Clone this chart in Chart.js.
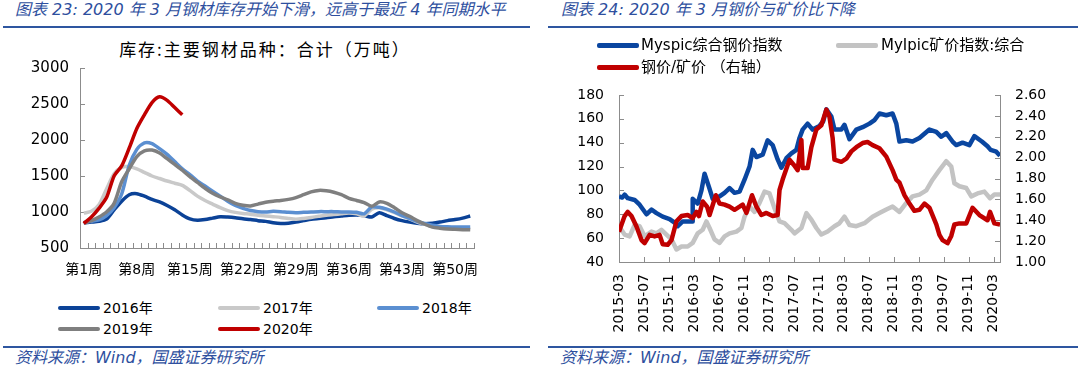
<!DOCTYPE html>
<html><head><meta charset="utf-8">
<script src="https://cdn.jsdelivr.net/npm/chart.js@4.4.0/dist/chart.umd.min.js"></script>
<style>
html,body{margin:0;padding:0;background:#fff;}
body{width:1080px;height:366px;position:relative;overflow:hidden;font-family:"DejaVu Sans","Noto Sans CJK SC",sans-serif;}
.hdr{position:absolute;top:0px;line-height:20px;font-family:"DejaVu Sans","Noto Sans CJK SC";font-style:italic;color:#2e4f9e;font-size:16px;white-space:nowrap;}
.rule{position:absolute;height:2px;background:#2e56a0;}
.src{position:absolute;top:348px;line-height:20px;font-family:"DejaVu Sans","Noto Sans CJK SC";font-style:italic;color:#2e4f9e;font-size:16px;white-space:nowrap;}
.li{position:absolute;height:4px;border-radius:2px;width:42px;}
.lt{position:absolute;line-height:20px;color:#000;white-space:nowrap;}
canvas{position:absolute;}
</style></head>
<body>
<div class="hdr" style="left:15px">图表 23:&nbsp;2020 年 3 月钢材库存开始下滑，远高于最近 4 年同期水平</div>
<div class="rule" style="left:3px;width:527px;top:26px"></div>
<div class="hdr" style="left:561px">图表 24:&nbsp;2020 年 3 月钢价与矿价比下降</div>
<div class="rule" style="left:548px;width:530px;top:26px"></div>

<div class="lt" style="left:0;width:530px;top:39px;text-align:center;font-size:17px;letter-spacing:2px;font-family:'Noto Sans CJK SC'">库存:主要钢材品种：合计（万吨）</div>

<canvas id="c1" width="540" height="262" style="left:0;top:30px"></canvas>
<canvas id="c2" width="540" height="316" style="left:540px;top:30px"></canvas>

<!-- left legend -->
<div class="li" style="left:58px;top:306px;background:#0b4297"></div><div class="lt" style="left:103px;top:298px;font-size:14px">2016年</div>
<div class="li" style="left:218px;top:306px;background:#c9c9c9"></div><div class="lt" style="left:263px;top:298px;font-size:14px">2017年</div>
<div class="li" style="left:377px;top:306px;background:#5b8fd1"></div><div class="lt" style="left:422px;top:298px;font-size:14px">2018年</div>
<div class="li" style="left:58px;top:327px;background:#7f7f7f"></div><div class="lt" style="left:103px;top:319px;font-size:14px">2019年</div>
<div class="li" style="left:218px;top:327px;background:#c00000"></div><div class="lt" style="left:263px;top:319px;font-size:14px">2020年</div>

<!-- right legend -->
<div class="li" style="left:597px;top:43px;background:#0a46a0;height:5px"></div><div class="lt" style="left:641px;top:35px;font-size:15px">Myspic综合钢价指数</div>
<div class="li" style="left:836px;top:43px;background:#c3c3c3;height:5px"></div><div class="lt" style="left:881px;top:35px;font-size:15px">MyIpic矿价指数:综合</div>
<div class="li" style="left:597px;top:65px;background:#c00000;height:5px"></div><div class="lt" style="left:641px;top:57px;font-size:15px">钢价/矿价 （右轴）</div>

<div class="rule" style="left:3px;width:527px;top:346px"></div>
<div class="src" style="left:15px">资料来源：Wind，国盛证券研究所</div>
<div class="rule" style="left:548px;width:530px;top:346px"></div>
<div class="src" style="left:560px">资料来源：Wind，国盛证券研究所</div>

<script>
// ---------- Left chart data (weekly inventory, 万吨) ----------
const weekLabels = Array.from({length:52},(_,i)=>'第'+(i+1)+'周');
const inv2016 = [850,860,870,900,1030,1150,1240,1255,1220,1175,1140,1090,1030,960,905,885,895,915,935,930,920,905,895,880,870,850,840,845,860,880,900,910,920,935,945,955,960,950,930,990,950,910,880,860,845,838,845,860,880,895,915,945];
const inv2017 = [985,1010,1100,1320,1530,1620,1630,1600,1550,1500,1465,1430,1400,1370,1300,1220,1160,1110,1060,1020,995,980,970,955,945,935,925,910,900,910,925,940,955,965,975,985,975,945,1040,1060,1030,990,945,905,860,830,805,790,780,775,770,765];
const inv2018 = [855,870,890,950,1060,1250,1650,1870,1960,1950,1880,1800,1700,1600,1520,1430,1360,1290,1220,1150,1090,1050,1020,1005,1000,1010,1005,995,990,995,1000,1005,1005,1005,1000,1000,995,975,1070,1065,1040,1000,950,910,870,840,815,800,795,792,792,792];
const inv2019 = [845,880,930,1000,1120,1420,1600,1770,1850,1860,1820,1740,1660,1580,1490,1410,1330,1260,1210,1170,1120,1095,1085,1110,1135,1150,1160,1175,1200,1240,1280,1300,1295,1275,1240,1190,1160,1130,1080,1140,1120,1060,990,940,880,830,790,775,765,760,755,752];
const inv2020 = [840,930,1050,1200,1500,1640,1890,2160,2350,2520,2600,2550,2450,2350];
const invTicks = [500,1000,1500,2000,2500,3000];

// ---------- Right chart data (months since 2015-03) ----------
const xTickLabels = ['2015-03','2015-07','2015-11','2016-03','2016-07','2016-11','2017-03','2017-07','2017-11','2018-03','2018-07','2018-11','2019-03','2019-07','2019-11','2020-03'];
const steelX = [0,0.5,0.9,1.4,2.5,3.3,4.4,5.2,6.0,7.0,8.1,8.9,9.4,10.2,11.3,11.7,11.8,12.6,13.2,13.7,14.4,15.0,16.1,16.9,17.7,18.5,19.3,20.1,20.9,21.4,22.0,23.0,23.8,24.6,25.4,26.0,26.8,27.6,28.4,28.9,29.4,30.2,31.0,32.1,32.7,33.2,34.0,34.5,35.6,36.1,36.9,38.0,39.0,40.1,40.9,41.7,42.8,43.8,44.4,44.9,46.0,47.0,48.1,49.7,50.8,51.6,52.4,53.4,54.0,55.0,56.1,56.9,58.1,59.0,59.5,60.4,61.0];
const steelY = [95,94,96.5,93.5,92,88,80,84,81,78,76,73,70,74,74,74,93,89,100,114,103,93,95,98,102,98,99,109,120,134,128,130,142,138,126,119,127,131,134,144,151,156,151,154,158,168,162,151,151,155,143,151,153,156,159,164.5,163,164.5,156,141,142,141,144,151,149,145,148,141,138,140,138,145.5,141,137,134,132.5,129];
const oreX = [0,0.9,1.7,2.5,3.3,4.1,5.2,6.0,6.8,7.6,8.4,9.2,10.0,11.0,11.8,12.6,13.4,14.0,14.5,15.3,16.1,16.9,17.7,18.8,19.6,20.1,20.9,21.7,22.5,23.3,24.1,24.9,25.7,26.5,27.6,28.1,29.2,30.0,30.8,31.6,32.4,33.4,34.5,35.3,36.1,36.9,38.0,39.3,40.6,41.7,42.8,43.8,44.9,46.0,47.0,48.1,49.2,50.2,51.3,52.4,53.2,53.7,54.5,55.6,56.4,57.4,58.5,59.4,60.1,61.0];
const oreY = [70,63,61.5,71,70,61.5,65.5,64,67,63,59,50.5,53,53,56,64,67,74,68.5,59,56,61.5,64,65.5,68.5,78,86.5,82,89.5,99,97.5,85,74,72.5,67,64,68.5,81,75.5,68.5,63,65.5,70,72.5,78,71,70,72.5,78,81,84,86.5,82,89.5,95,96.5,100,109,117,124.5,120,106,103.5,102,95,97.5,99,93.5,96.5,96.5];
const ratioX = [0,0.9,1.4,2.0,2.8,3.6,4.1,4.9,5.7,6.5,7.0,7.8,8.4,9.2,10.0,11.0,11.8,12.4,12.8,13.4,14.1,14.5,15.5,16.1,16.9,17.7,18.5,19.3,19.8,20.4,21.3,22.0,22.8,23.6,24.6,25.4,25.7,26.2,27.3,28.0,28.6,29.2,29.4,30.2,30.8,31.6,32.4,33.2,33.7,34.2,34.5,35.6,36.4,37.2,38.0,39.0,39.8,40.6,41.7,42.8,43.8,44.4,44.9,45.7,46.5,47.3,48.1,48.9,49.7,50.8,51.3,51.8,52.6,53.2,53.7,54.5,55.6,56.6,57.7,59.0,59.4,60.1,61.0];
const ratioY = [1.29,1.44,1.48,1.44,1.34,1.21,1.18,1.26,1.245,1.26,1.17,1.165,1.21,1.39,1.44,1.45,1.42,1.48,1.44,1.58,1.53,1.45,1.64,1.56,1.55,1.53,1.50,1.53,1.55,1.47,1.64,1.53,1.45,1.47,1.44,1.45,1.69,1.79,1.98,1.93,1.88,2.17,1.90,1.90,2.10,2.27,2.31,2.46,2.39,2.19,1.98,1.96,1.99,2.06,2.10,2.14,2.15,2.12,2.09,2.01,1.88,1.79,1.76,1.64,1.56,1.49,1.50,1.56,1.52,1.36,1.26,1.21,1.18,1.25,1.36,1.37,1.37,1.52,1.45,1.40,1.48,1.37,1.36];

const FONT = '"DejaVu Sans","Noto Sans CJK SC",sans-serif';
const AXIS = '#8c8c8c';

const innerTicks = {
  id:'innerTicks',
  beforeDatasetsDraw(chart){
    const ctx = chart.ctx, ca = chart.chartArea, len = 5;
    ctx.save(); ctx.strokeStyle = AXIS; ctx.lineWidth = 1; ctx.beginPath();
    for (const id of Object.keys(chart.scales)) {
      const s = chart.scales[id];
      if (s.isHorizontal()) {
        let xs = [];
        if (s.type === 'category') {
          const step = s.getPixelForValue(1) - s.getPixelForValue(0);
          for (let i = 0; i <= s.ticks.length; i++) xs.push(s.getPixelForValue(0) - step/2 + i*step);
        } else xs = s.ticks.map(t => s.getPixelForValue(t.value));
        xs.forEach(x => { x = Math.round(x) + 0.5; ctx.moveTo(x, ca.bottom); ctx.lineTo(x, ca.bottom - len); });
      } else {
        const left = s.position === 'left';
        const x0 = left ? ca.left : ca.right;
        s.ticks.forEach(t => { const y = Math.round(s.getPixelForValue(t.value)) + 0.5; ctx.moveTo(x0, y); ctx.lineTo(left ? x0 + len : x0 - len, y); });
      }
    }
    ctx.stroke(); ctx.restore();
  }
};

Chart.defaults.font.family = FONT;
Chart.defaults.color = '#000';

function ds(label, data, color, order, width){
  return {label, data, borderColor:color, backgroundColor:color, borderWidth:width, pointRadius:0, tension:0.25, order, fill:false, borderJoinStyle:'round', borderCapStyle:'butt'};
}

new Chart(document.getElementById('c1'), {
  type:'line',
  data:{ labels: weekLabels, datasets:[
    ds('2016年', inv2016, '#0b4297', 5, 3.5),
    ds('2017年', inv2017, '#c9c9c9', 4, 3.5),
    ds('2018年', inv2018, '#5b8fd1', 3, 3.5),
    ds('2019年', inv2019, '#7f7f7f', 2, 3.5),
    ds('2020年', inv2020, '#c00000', 1, 3.5)
  ]},
  options:{
    responsive:false, animation:false, devicePixelRatio:1,
    layout:{padding:{left:0,right:66,top:38,bottom:0}},
    plugins:{legend:{display:false}, tooltip:{enabled:false}, title:{display:false}},
    scales:{
      x:{ type:'category', offset:true,
        grid:{display:false, drawTicks:false}, border:{display:true,color:AXIS,width:1},
        ticks:{autoSkip:false,maxRotation:0,minRotation:0,padding:14,font:{size:14},
          callback(v,i){ return i % 7 === 0 ? weekLabels[i] : ''; }},
        afterFit(s){ s.height = 44; } },
      y:{ min:500, max:3000,
        grid:{display:false, drawTicks:false}, border:{display:true,color:AXIS,width:1},
        afterBuildTicks(s){ s.ticks = invTicks.map(v=>({value:v})); },
        ticks:{padding:11,font:{size:15}, callback(v){ return String(v); }},
        afterFit(s){ s.width = 80; } }
    }
  },
  plugins:[innerTicks]
});

const pts = (xs, ys) => xs.map((x,i)=>({x, y: ys[i]}));
function ds2(label, data, color, order, axis){
  return {label, data, borderColor:color, backgroundColor:color, borderWidth:4.5, pointRadius:0, tension:0, order, fill:false, yAxisID:axis, borderJoinStyle:'round'};
}
new Chart(document.getElementById('c2'), {
  type:'line',
  data:{ datasets:[
    ds2('Myspic综合钢价指数', pts(steelX, steelY), '#0a46a0', 3, 'y'),
    ds2('MyIpic矿价指数:综合', pts(oreX, oreY), '#c3c3c3', 2, 'y'),
    ds2('钢价/矿价（右轴）', pts(ratioX, ratioY), '#c00000', 1, 'y2')
  ]},
  options:{
    responsive:false, animation:false, devicePixelRatio:1,
    layout:{padding:{left:0,right:0,top:65,bottom:0}},
    plugins:{legend:{display:false}, tooltip:{enabled:false}},
    scales:{
      x:{ type:'linear', min:0, max:61,
        grid:{display:false, drawTicks:false}, border:{display:true,color:AXIS,width:1},
        afterBuildTicks(s){ s.ticks = xTickLabels.map((_,i)=>({value:i*4})); },
        ticks:{autoSkip:false,maxRotation:90,minRotation:90,padding:12,font:{size:14},
          callback(v){ return xTickLabels[Math.round(v/4)]; }},
        afterFit(s){ s.height = 84; } },
      y:{ position:'left', min:40, max:180,
        grid:{display:false, drawTicks:false}, border:{display:true,color:AXIS,width:1},
        ticks:{stepSize:20,padding:15,font:{size:14}},
        afterFit(s){ s.width = 79; } },
      y2:{ position:'right', min:1, max:2.6,
        grid:{display:false, drawTicks:false}, border:{display:true,color:AXIS,width:1},
        ticks:{stepSize:0.2,padding:15,font:{size:14}, callback(v){ return Number(v).toFixed(2); }},
        afterFit(s){ s.width = 80; } }
    }
  },
  plugins:[innerTicks]
});
</script>
</body></html>
